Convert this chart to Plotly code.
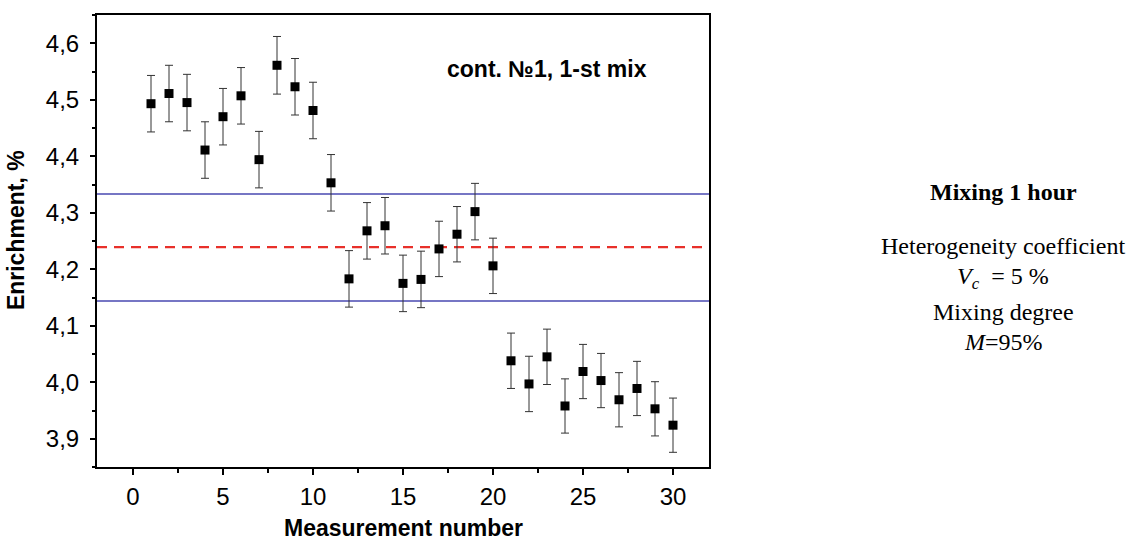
import plotly.graph_objects as go

# Measurement data: enrichment of each sample with its uncertainty
measurement = list(range(1, 31))
enrichment = [4.493, 4.511, 4.495, 4.411, 4.470, 4.507, 4.394, 4.561, 4.523, 4.481,
              4.353, 4.183, 4.268, 4.277, 4.175, 4.182, 4.236, 4.262, 4.302, 4.206,
              4.038, 3.997, 4.045, 3.958, 4.019, 4.003, 3.969, 3.989, 3.953, 3.924]
error = [0.050, 0.050, 0.050, 0.050, 0.050, 0.050, 0.050, 0.051, 0.050, 0.050,
         0.050, 0.050, 0.050, 0.050, 0.050, 0.050, 0.049, 0.049, 0.050, 0.049,
         0.049, 0.049, 0.049, 0.048, 0.048, 0.048, 0.048, 0.048, 0.048, 0.048]

# Mean value and the band limits
mean_level = 4.239
upper_level = 4.333
lower_level = 4.144

x_ticks = [0, 5, 10, 15, 20, 25, 30]
y_ticks = [3.9, 4.0, 4.1, 4.2, 4.3, 4.4, 4.5, 4.6]

sans = "Liberation Sans, Arial, sans-serif"
serif = "Liberation Serif, Times New Roman, serif"

fig = go.Figure()

fig.add_trace(go.Scatter(
    x=measurement, y=enrichment, mode="markers",
    marker=dict(symbol="square", size=9, color="black"),
    error_y=dict(type="data", array=error, visible=True,
                 color="#333333", thickness=1, width=4),
    showlegend=False,
))

# Band limits (solid blue) and mean (dashed red)
for level in (upper_level, lower_level):
    fig.add_shape(type="line", xref="paper", x0=0, x1=1, y0=level, y1=level,
                  line=dict(color="#4848b0", width=1.5), layer="below")
fig.add_shape(type="line", xref="paper", x0=0, x1=1, y0=mean_level, y1=mean_level,
              line=dict(color="#e8302a", width=2.2, dash="10px,7px"), layer="below")

axis_common = dict(
    showline=True, linecolor="black", linewidth=2, mirror=True,
    ticks="outside", tickcolor="black", tickwidth=1.5,
    showgrid=False, zeroline=False,
    tickfont=dict(family=sans, size=24, color="black"),
)

fig.update_xaxes(range=[-2, 32], tickvals=x_ticks, ticklen=6, ticklabelstandoff=1,
                 minor=dict(dtick=2.5, tick0=0, ticks="outside", ticklen=4,
                            tickcolor="black", tickwidth=1.5),
                 **axis_common)
fig.update_yaxes(range=[3.85, 4.65], tickvals=y_ticks, tickformat=".1f", ticklen=5,
                 ticklabelstandoff=6,
                 minor=dict(dtick=0.05, tick0=3.85, ticks="outside", ticklen=3,
                            tickcolor="black", tickwidth=1.5),
                 **axis_common)

annotations = [
    dict(text="<b>Measurement number</b>", x=0.5016, y=-0.136,
         font=dict(family=sans, size=23, color="black")),
    dict(text="<b>Enrichment, %</b>", x=-0.1324, y=0.524, textangle=-90,
         font=dict(family=sans, size=23, color="black")),
    dict(text="<b>cont. №1, 1-st mix</b>", x=0.7348, y=0.8805,
         font=dict(family=sans, size=23, color="black")),
    dict(text="<b>Mixing 1 hour</b>", x=1.4804, y=0.6088,
         font=dict(family=serif, size=24, color="black")),
    dict(text="Heterogeneity coefficient", x=1.4804, y=0.4886,
         font=dict(family=serif, size=24, color="black")),
    dict(text="<i>V</i><sub><i>c</i></sub>  = 5 %", x=1.4804, y=0.4178,
         font=dict(family=serif, size=24, color="black")),
    dict(text="Mixing degree", x=1.4804, y=0.3431,
         font=dict(family=serif, size=24, color="black")),
    dict(text="<i>M</i>=95%", x=1.4804, y=0.2767,
         font=dict(family=serif, size=24, color="black")),
]
for a in annotations:
    fig.add_annotation(xref="paper", yref="paper", showarrow=False,
                       xanchor="center", yanchor="middle", **a)

fig.update_layout(
    width=1131, height=538,
    margin=dict(l=97, r=422, t=15, b=71),
    paper_bgcolor="white", plot_bgcolor="white",
    separators=", ",
)

fig.write_html("out.html")
